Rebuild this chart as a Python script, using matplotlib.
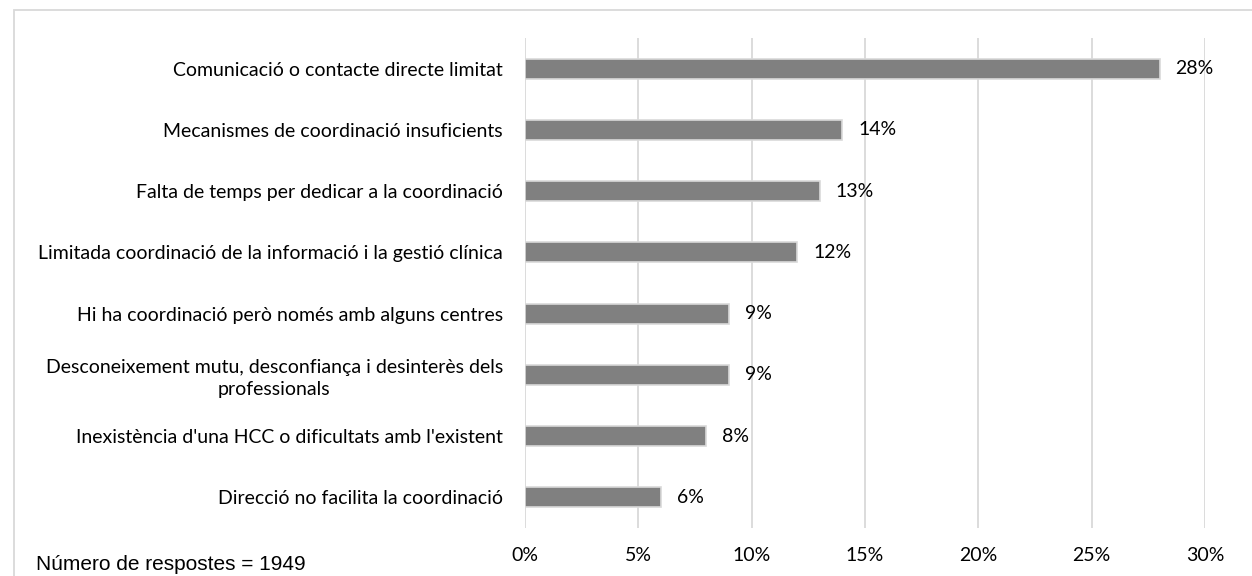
import matplotlib
matplotlib.use("Agg")
import matplotlib.pyplot as plt
from matplotlib.patches import Rectangle
from matplotlib.ticker import FuncFormatter

categories = [
    "Comunicació o contacte directe limitat",
    "Mecanismes de coordinació insuficients",
    "Falta de temps per dedicar a la coordinació",
    "Limitada coordinació de la informació i la gestió clínica",
    "Hi ha coordinació però només amb alguns centres",
    "Desconeixement mutu, desconfiança i desinterès dels\nprofessionals",
    "Inexistència d'una HCC o dificultats amb l'existent",
    "Direcció no facilita la coordinació",
]
values = [28, 14, 13, 12, 9, 9, 8, 6]
x_ticks = [0, 5, 10, 15, 20, 25, 30]
note = "Número de respostes = 1949"

label_font = ["Lato", "DejaVu Sans"]
FS = 14
W, H = 1252, 576
fig = plt.figure(figsize=(W / 100, H / 100), dpi=100)

# outer frame of the chart area
fig.patches.append(Rectangle((14 / W, -0.1), 1.2, 1 - 10 / H + 0.1,
                             transform=fig.transFigure, fill=False,
                             edgecolor="#d9d9d9", linewidth=1.3))

ax = fig.add_axes([525 / W, 1 - 528 / H, (1205 - 525) / W, (528 - 38) / H])
n = len(categories)
ypos = list(range(n - 1, -1, -1))
ax.barh(ypos, values, height=0.33, color="#808080", edgecolor="#d9d9d9",
        linewidth=1.2, zorder=3)
for y, v in zip(ypos, values):
    ax.annotate(f"{v}%", (v, y), xytext=(11.5, 0), textcoords="offset points",
                va="center", ha="left", fontsize=FS, family=label_font,
                color="#000000")

ax.set_xlim(0, 30)
ax.set_ylim(-0.5, n - 0.5)
ax.set_xticks(x_ticks)
ax.xaxis.set_major_formatter(FuncFormatter(lambda v, p: f"{v:.0f}%"))
ax.set_yticks(ypos)
ax.set_yticklabels(categories, fontsize=FS, family=label_font,
                   multialignment="center", linespacing=1.32)
ax.tick_params(axis="both", length=0, colors="#000000")
ax.tick_params(axis="y", pad=16)
ax.tick_params(axis="x", pad=14)
for lbl in ax.get_xticklabels():
    lbl.set_family(label_font)
    lbl.set_fontsize(FS)
ax.grid(axis="x", color="#d9d9d9", linewidth=1.3, zorder=0)
for s in ax.spines.values():
    s.set_visible(False)

fig.text(36 / W, 1 - 565 / H, note, fontsize=15, family="Liberation Sans",
         va="center", ha="left")

fig.savefig("out.png", dpi=100)
